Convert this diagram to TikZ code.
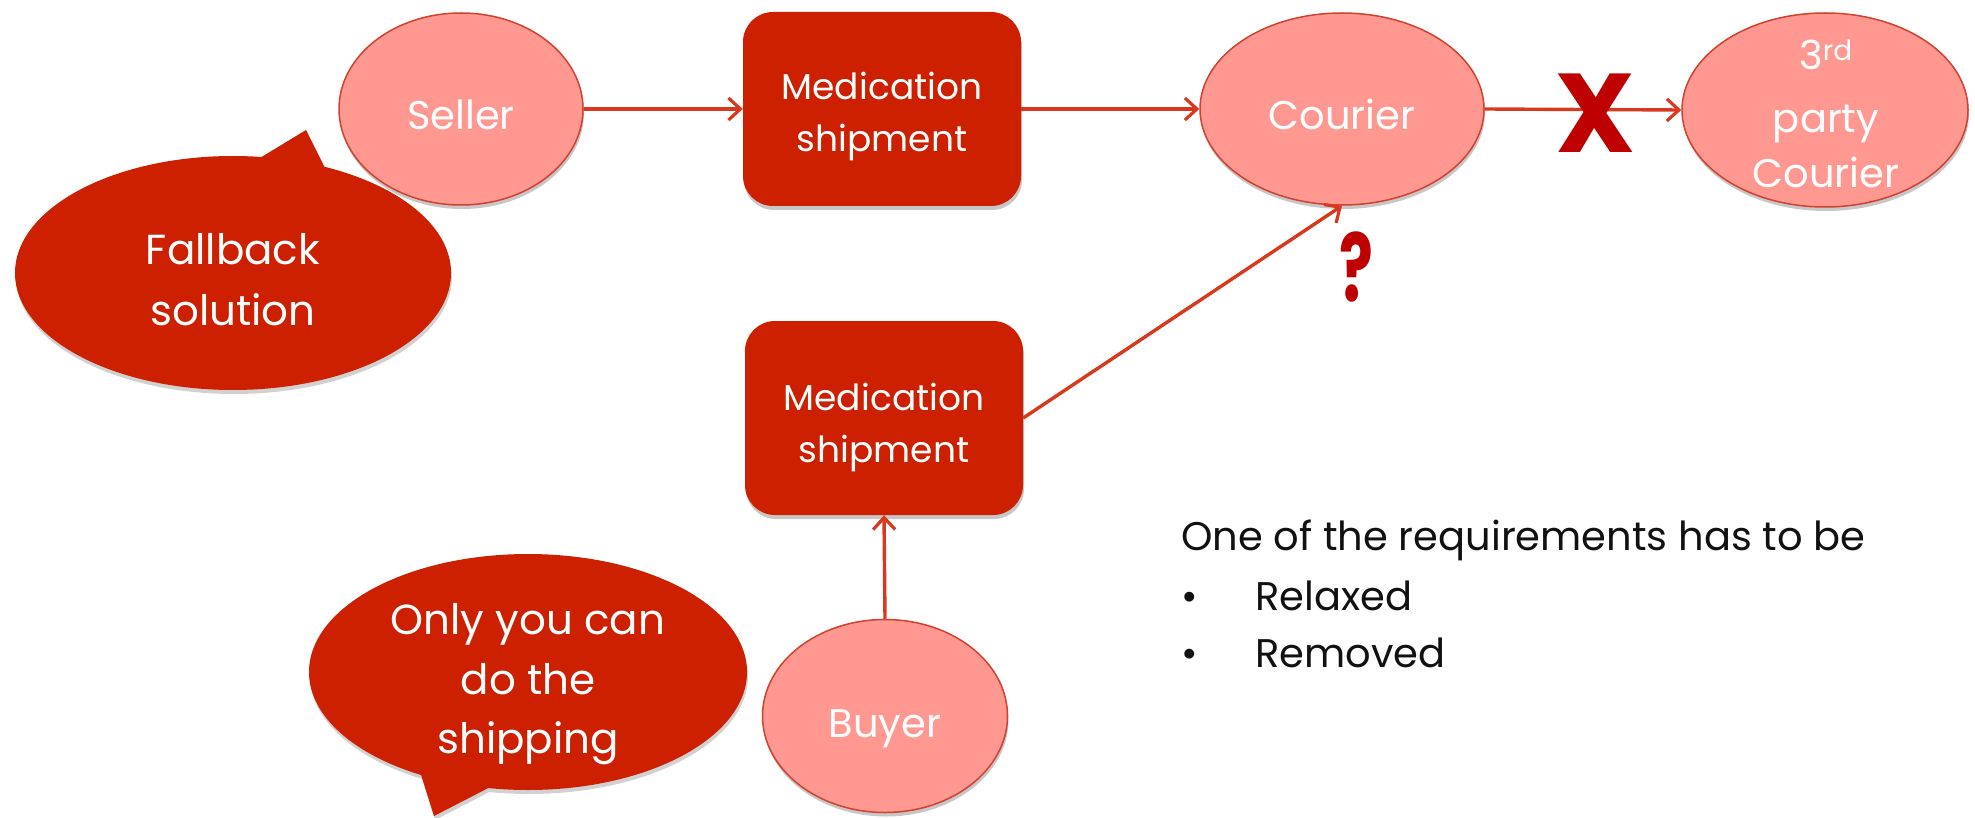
\documentclass[tikz,border=0pt]{standalone}
\usepackage{fontspec}
\setmainfont{Poppins}
\usetikzlibrary{arrows.meta,shadows,shapes.geometric}
\definecolor{boxred}{HTML}{CC2000}
\definecolor{pinkfill}{HTML}{FF9891}
\definecolor{pinkedge}{HTML}{D2402E}
\definecolor{linkred}{HTML}{D8381E}
\definecolor{markred}{HTML}{BE0000}
\definecolor{inkgray}{HTML}{111111}

\begin{document}
\begin{tikzpicture}[x=1pt,y=-1pt,
  softshadow/.style={drop shadow={shadow xshift=1pt,shadow yshift=-4pt,opacity=0.22,fill=black}},
  party/.style={ellipse, draw=pinkedge, line width=1.5pt, fill=pinkfill, inner sep=0pt, softshadow},
  task/.style={rectangle, rounded corners=30pt, fill=boxred, minimum width=278pt,
    minimum height=194pt, inner sep=0pt, softshadow},
  partytext/.style={anchor=base, text=white, inner sep=0pt, font=\fontsize{40}{40}\selectfont},
  tasktext/.style={anchor=base, text=white, inner sep=0pt, font=\fontsize{36}{36}\selectfont},
  notetext/.style={anchor=base, text=white, inner sep=0pt, font=\fontsize{42}{42}\selectfont},
  link/.style={draw=linkred, line width=3.4pt, -{Straight Barb[length=12pt,width=22pt,line width=3.2pt]}},
  bubble/.style={fill=boxred},
  bubbleshadow/.style={fill=black!18},
  bodytext/.style={anchor=base west, inner sep=0pt, text=inkgray, font=\fontsize{40}{40}\selectfont},
  markglyph/.style={text=markred, inner sep=0pt},
]
\useasboundingbox (0,0) rectangle (1975,818);

% speech bubbles: shadows first, then ellipse and tail
\begin{scope}[shift={(1,4)}]
  \fill[bubbleshadow] (233,273) ellipse [x radius=218, y radius=117];
  \fill[bubbleshadow] (250,164) -- (306,130) -- (329,176) -- cycle;
  \fill[bubbleshadow] (528,672) ellipse [x radius=219, y radius=118];
  \fill[bubbleshadow] (418,765) -- (434,816) -- (500,782) -- cycle;
\end{scope}
\fill[bubble] (233,273) ellipse [x radius=218, y radius=117];
\fill[bubble] (250,164) -- (306,130) -- (329,176) -- cycle;
\fill[bubble] (528,672) ellipse [x radius=219, y radius=118];
\fill[bubble] (418,765) -- (434,816) -- (500,782) -- cycle;
\node[notetext] (fallbackA) at (233,265) {Fallback};
\node[notetext] (fallbackB) at (233,325) {solution};
\node[notetext] (onlyA) at (528,634) {Only you can};
\node[notetext] (onlyB) at (528,694) {do the};
\node[notetext] (onlyC) at (528,753) {shipping};

% parties and shipments
\node[party, minimum width=244pt, minimum height=192pt] (seller) at (461,109) {};
\node[partytext] (sellerlabel) at (461,130) {Seller};
\node[task] (ship1) at (882,109) {};
\node[tasktext] (ship1A) at (882,100) {Medication};
\node[tasktext] (ship1B) at (882,152) {shipment};
\node[party, minimum width=284pt, minimum height=192pt] (courier) at (1342,109) {};
\node[partytext] (courierlabel) at (1342,130) {Courier};
\node[party, minimum width=286pt, minimum height=194pt] (third) at (1825,110) {};
\node[partytext] (thirdA) at (1826,70) {3\textsuperscript{rd}};
\node[partytext] (thirdB) at (1826,133) {party};
\node[partytext] (thirdC) at (1826,188) {Courier};
\node[task] (ship2) at (884,418) {};
\node[tasktext] (ship2A) at (884,410) {Medication};
\node[tasktext] (ship2B) at (884,462) {shipment};
\node[party, minimum width=245pt, minimum height=193pt] (buyer) at (885,716) {};
\node[partytext] (buyerlabel) at (885,737) {Buyer};

% flows
\draw[link] (seller.east) -- (ship1.west);
\draw[link] (ship1.east) -- (courier.west);
\draw[link] (courier.east) -- (third.west);
\draw[link] (buyer.north) -- (ship2.south);
\draw[link] (ship2.east) -- (courier.south);

% blocked hand-over and open question
\node[markglyph, font=\fontsize{112}{112}\selectfont\bfseries] (cross) at (1596,113) {X};
\node[markglyph, font=\fontsize{84}{84}\selectfont\bfseries] (query) at (1356,267) {\scalebox{0.75}[1.12]{?}};

% requirements list
\node[bodytext] (req) at (1181,550) {One of the requirements has to be};
\node[bodytext] (bulletone) at (1181,610) {•};
\node[bodytext] (relaxed) at (1255,610) {Relaxed};
\node[bodytext] (bullettwo) at (1181,667) {•};
\node[bodytext] (removed) at (1255,667) {Removed};
\end{tikzpicture}
\end{document}
